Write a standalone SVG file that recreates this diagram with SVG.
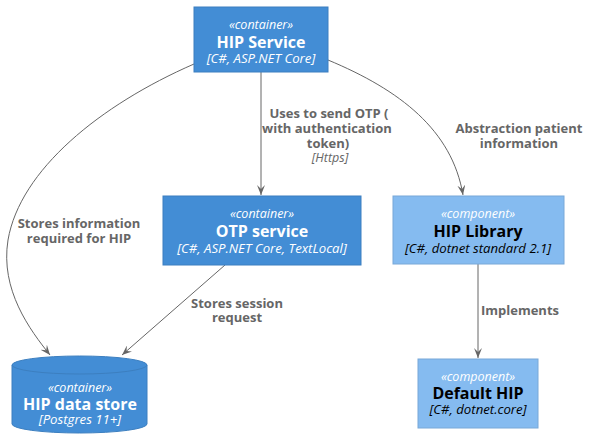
<svg xmlns="http://www.w3.org/2000/svg" width="597" height="443" viewBox="0 0 597 443">
<style>
.cont{fill:#438DD5;stroke:#3C7FC0;stroke-width:1}
.comp{fill:#85BBF0;stroke:#78A8D8;stroke-width:1}
.st{font-family:"Open Sans","DejaVu Sans",sans-serif;font-style:italic;font-size:12.5px;text-anchor:middle}
.tc{font-family:"Open Sans","DejaVu Sans",sans-serif;font-style:italic;font-size:13.2px;text-anchor:middle}
.ti{font-family:"Open Sans","DejaVu Sans",sans-serif;font-weight:bold;font-size:16px;text-anchor:middle}
.w{fill:#FFFFFF}
.b{fill:#000000}
.lbl{font-family:"Open Sans","DejaVu Sans",sans-serif;font-weight:bold;font-size:13px;fill:#666666;text-anchor:middle}
.tech{font-family:"Open Sans","DejaVu Sans",sans-serif;font-style:italic;font-size:12.5px;fill:#666666;text-anchor:middle}
.edge{fill:none;stroke:#666666;stroke-width:1;marker-end:url(#arr)}
</style>
<defs>
<marker id="arr" markerWidth="10" markerHeight="8" refX="10" refY="4" orient="auto" markerUnits="userSpaceOnUse">
<path d="M0,0 L10,4 L0,8 L4,4 Z" fill="#666666"/>
</marker>
</defs>
<rect width="597" height="443" fill="#FFFFFF"/>
<g id="connectors">
<path class="edge" d="M261,72 L261,195"/>
<path class="edge" d="M328,60 C400,90 452,130 463,195"/>
<path class="edge" d="M194,64 C100,105 20,170 8,240 C0,290 30,330 50,355"/>
<path class="edge" d="M225,265 L122,355"/>
<path class="edge" d="M478,264 L478,358"/>
<text class="lbl" x="329" y="118">Uses to send OTP (</text>
<text class="lbl" x="327" y="133">with authentication</text>
<text class="lbl" x="328" y="148">token)</text>
<text class="tech" x="330" y="162">[Https]</text>
<text class="lbl" x="519" y="133">Abstraction patient</text>
<text class="lbl" x="519" y="148">information</text>
<text class="lbl" x="79" y="228">Stores information</text>
<text class="lbl" x="79" y="243">required for HIP</text>
<text class="lbl" x="237" y="308">Stores session</text>
<text class="lbl" x="237" y="322">request</text>
<text class="lbl" x="520" y="315">Implements</text>
</g>
<g id="hip-service">
<rect class="cont" x="194" y="7" width="134" height="65"/>
<text class="st w" x="261" y="29">«container»</text>
<text class="ti w" x="261" y="48">HIP Service</text>
<text class="tc w" x="261" y="63">[C#, ASP.NET Core]</text>
</g>
<g id="otp-service">
<rect class="cont" x="163" y="196" width="198" height="69"/>
<text class="st w" x="262" y="218">«container»</text>
<text class="ti w" x="262" y="237">OTP service</text>
<text class="tc w" x="262" y="253">[C#, ASP.NET Core, TextLocal]</text>
</g>
<g id="hip-library">
<rect class="comp" x="393" y="196" width="171" height="68"/>
<text class="st w" x="478" y="218">«component»</text>
<text class="ti b" x="478" y="237">HIP Library</text>
<text class="tc b" x="478" y="253">[C#, dotnet standard 2.1]</text>
</g>
<g id="default-hip">
<rect class="comp" x="418" y="359" width="120" height="69"/>
<text class="st w" x="478" y="381">«component»</text>
<text class="ti b" x="478" y="399">Default HIP</text>
<text class="tc b" x="478" y="414">[C#, dotnet.core]</text>
</g>
<g id="hip-data-store">
<path class="cont" d="M12,365 A67.5,9 0 0 1 147,365 L147,424 A67.5,9 0 0 1 12,424 Z"/>
<path d="M12,365 A67.5,9 0 0 0 147,365" fill="none" stroke="#3C7FC0"/>
<text class="st w" x="80" y="392">«container»</text>
<text class="ti w" x="80" y="410">HIP data store</text>
<text class="tc w" x="80" y="424">[Postgres 11+]</text>
</g>
</svg>
